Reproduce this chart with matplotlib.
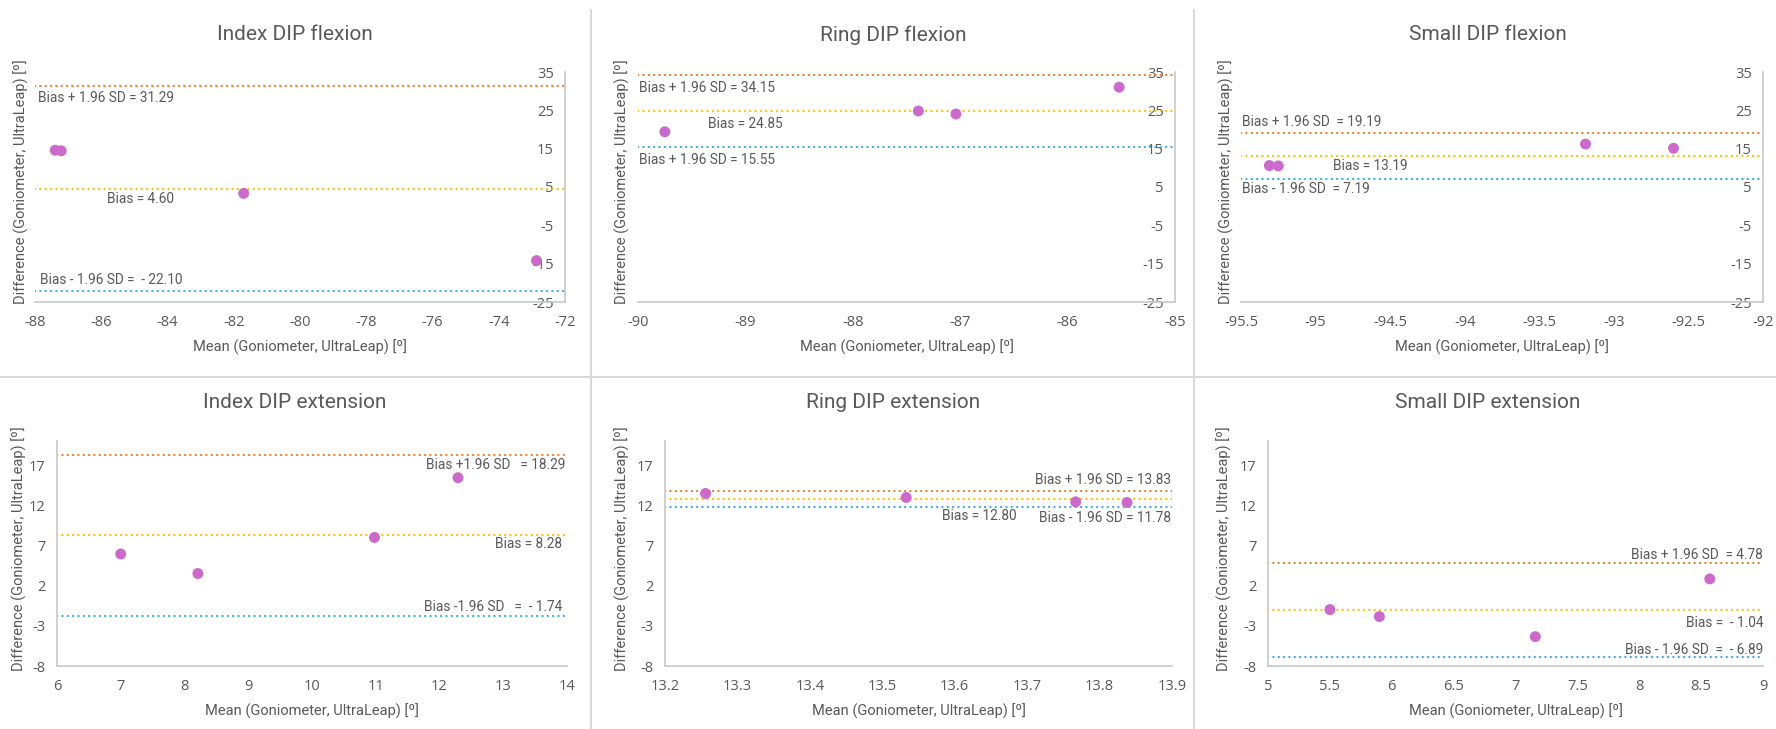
import matplotlib
matplotlib.use("Agg")
import matplotlib.pyplot as plt
from matplotlib.lines import Line2D

plt.rcParams["axes.unicode_minus"] = False

# Bland-Altman plots, DIP joints

titles = ["Index DIP flexion", "Ring DIP flexion", "Small DIP flexion",
          "Index DIP extension", "Ring DIP extension", "Small DIP extension"]

# mean (x) and difference (y) for each joint
idx_flex_x = [-87.39, -87.21, -81.70, -72.86]
idx_flex_y = [14.6, 14.45, 3.34, -14.2]
ring_flex_x = [-89.75, -87.39, -87.04, -85.52]
ring_flex_y = [19.4, 24.83, 24.05, 31.03]
small_flex_x = [-95.31, -95.25, -93.19, -92.60]
small_flex_y = [10.6, 10.5, 16.2, 15.1]
idx_ext_x = [7.0, 8.21, 10.98, 12.29]
idx_ext_y = [5.94, 3.51, 8.0, 15.43]
ring_ext_x = [13.256, 13.533, 13.767, 13.838]
ring_ext_y = [13.47, 12.97, 12.43, 12.35]
small_ext_x = [5.50, 5.90, 7.16, 8.57]
small_ext_y = [-0.98, -1.85, -4.35, 2.84]

xs = [idx_flex_x, ring_flex_x, small_flex_x, idx_ext_x, ring_ext_x, small_ext_x]
ys = [idx_flex_y, ring_flex_y, small_flex_y, idx_ext_y, ring_ext_y, small_ext_y]

# limits of agreement
upper = [31.29, 34.15, 19.19, 18.29, 13.83, 4.78]
bias = [4.60, 24.85, 13.19, 8.28, 12.80, -1.04]
lower = [-22.10, 15.55, 7.19, -1.74, 11.78, -6.89]

upper_txt = ["Bias + 1.96 SD = 31.29", "Bias + 1.96 SD = 34.15", "Bias + 1.96 SD  = 19.19",
             "Bias +1.96 SD   = 18.29", "Bias + 1.96 SD = 13.83", "Bias + 1.96 SD  = 4.78"]
bias_txt = ["Bias = 4.60", "Bias = 24.85", "Bias = 13.19",
            "Bias = 8.28", "Bias = 12.80", "Bias =  - 1.04"]
lower_txt = ["Bias - 1.96 SD =  - 22.10", "Bias + 1.96 SD = 15.55", "Bias - 1.96 SD  = 7.19",
             "Bias -1.96 SD   =  - 1.74", "Bias - 1.96 SD = 11.78", "Bias - 1.96 SD  =  - 6.89"]

# label positions (x, y, ha)
upper_pos = [(-87.9, 28.1, "left"), (-89.99, 30.9, "left"), (-95.49, 22.0, "left"),
             (13.97, 17.0, "right"), (13.899, 15.1, "right"), (9.0, 5.8, "right")]
bias_pos = [(-85.84, 1.9, "left"), (-89.35, 21.4, "left"), (-94.88, 10.5, "left"),
            (13.92, 7.2, "right"), (13.582, 10.7, "left"), (9.0, -2.7, "right")]
lower_pos = [(-87.85, -19.2, "left"), (-89.99, 12.1, "left"), (-95.49, 4.6, "left"),
             (13.92, -0.66, "right"), (13.899, 10.45, "right"), (9.0, -6.05, "right")]

xlims = [(-88, -72), (-90, -85), (-95.5, -92), (6, 14), (13.2, 13.9), (5, 9)]
xticks = [[-88, -86, -84, -82, -80, -78, -76, -74, -72],
          [-90, -89, -88, -87, -86, -85],
          [-95.5, -95, -94.5, -94, -93.5, -93, -92.5, -92],
          [6, 7, 8, 9, 10, 11, 12, 13, 14],
          [13.2, 13.3, 13.4, 13.5, 13.6, 13.7, 13.8, 13.9],
          [5, 5.5, 6, 6.5, 7, 7.5, 8, 8.5, 9]]
yticks_top = [-25, -15, -5, 5, 15, 25, 35]
yticks_bot = [-8, -3, 2, 7, 12, 17]

W, H = 1776, 729
# axes boxes in pixels: left, right, top, bottom
boxes = [(35, 565, 72, 302), (638, 1175, 72, 302), (1241, 1763, 72, 302),
         (57, 567, 441, 666), (665, 1172, 441, 666), (1268, 1763, 441, 666)]
title_cx = [295, 893, 1488]
ylab_x = [21, 622, 1226, 19, 622, 1224]

grey = "#595959"
narrow = ["Roboto", "DejaVu Sans"]
regular = ["Open Sans", "DejaVu Sans"]

fig = plt.figure(figsize=(W / 100, H / 100), dpi=100)

for i in range(6):
    l, r, t, b = boxes[i]
    ax = fig.add_axes([l / W, 1 - b / H, (r - l) / W, (b - t) / H])
    top_row = i < 3

    ax.axhline(upper[i], color="#ED7D31", lw=1.6, ls=(0, (0.1, 2.3)), dash_capstyle="round", zorder=2)
    ax.axhline(bias[i], color="#FFC000", lw=1.6, ls=(0, (0.1, 2.3)), dash_capstyle="round", zorder=2)
    ax.axhline(lower[i], color="#3FA9F5", lw=1.6, ls=(0, (0.1, 2.3)), dash_capstyle="round", zorder=2)
    ax.scatter(xs[i], ys[i], s=62, color="#CC6ACC", edgecolors="none", zorder=3)

    ax.set_xlim(*xlims[i])
    ax.set_xticks(xticks[i])
    ax.set_xticklabels([f"{v:g}" for v in xticks[i]])
    if top_row:
        ax.set_ylim(-25, 35)
        ax.set_yticks(yticks_top)
        # vertical axis crosses at the max of x
        ax.spines["left"].set_position(("data", xlims[i][1]))
    else:
        ax.set_ylim(-8, 20)
        ax.set_yticks(yticks_bot)

    for s in ["top", "right"]:
        ax.spines[s].set_visible(False)
    for s in ["left", "bottom"]:
        ax.spines[s].set_color("#C8C8C8")
        ax.spines[s].set_linewidth(1.2)
    ax.tick_params(length=0, colors=grey, labelsize=10.5)
    ax.tick_params(axis="x", pad=9)
    ax.tick_params(axis="y", pad=8)
    for lab in ax.get_xticklabels() + ax.get_yticklabels():
        lab.set_family(regular)
    ax.set_xlabel("Mean (Goniometer, UltraLeap) [º]", fontsize=10.5, color=grey,
                  family=narrow, labelpad=7)
    ax.patch.set_alpha(0)

    for txt, pos in [(upper_txt[i], upper_pos[i]), (bias_txt[i], bias_pos[i]),
                     (lower_txt[i], lower_pos[i])]:
        ax.text(pos[0], pos[1], txt, ha=pos[2], va="center", fontsize=9.8,
                color=grey, family=narrow, zorder=4)

    ty = 35 if top_row else 403
    fig.text(title_cx[i % 3] / W, 1 - ty / H, titles[i], ha="center", va="center",
             fontsize=15, color=grey, family=narrow)
    fig.text(ylab_x[i] / W, 1 - ((t + b) / 2 - 5) / H, "Difference (Goniometer, UltraLeap) [º]",
             rotation=90, ha="center", va="center", fontsize=10.5, color=grey, family=narrow)

# chart borders
sep = "#D9D9D9"
fig.add_artist(Line2D([0, 1], [1 - 377 / H] * 2, color=sep, lw=1.5))
for xv in [591, 1194]:
    fig.add_artist(Line2D([xv / W] * 2, [0, 1 - 10 / H], color=sep, lw=1.5))

fig.savefig("out.png", dpi=100)
